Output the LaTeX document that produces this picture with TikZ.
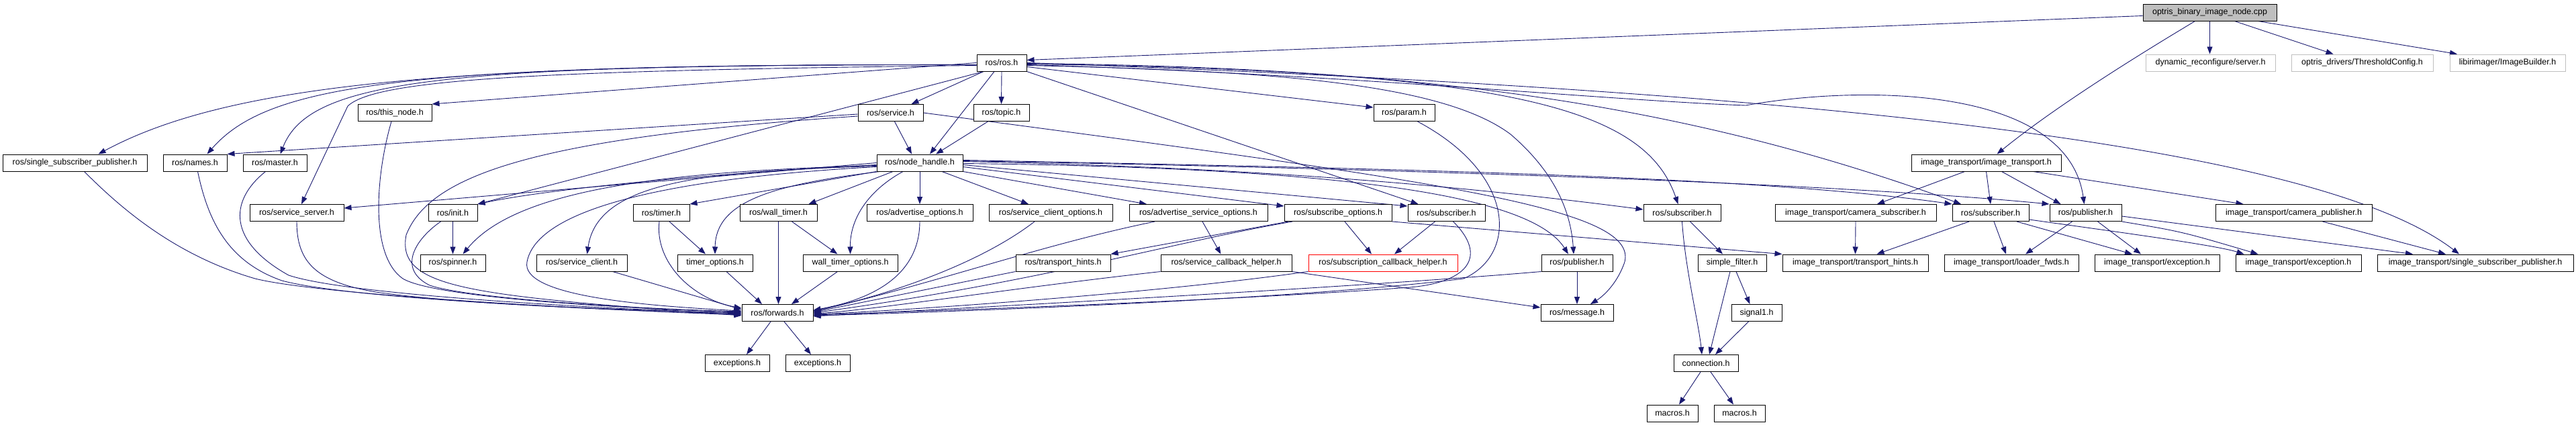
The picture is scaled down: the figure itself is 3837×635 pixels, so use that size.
\documentclass[tikz,border=0pt]{standalone}
\usepackage{fontspec}
\setmainfont{Liberation Sans}
\usetikzlibrary{arrows.meta}
\definecolor{edgecol}{HTML}{191970}
\definecolor{grayb}{HTML}{BFBFBF}
\pgfdeclarelayer{back}
\pgfdeclarelayer{edges}
\pgfsetlayers{back,edges,main}
\begin{document}
\begin{tikzpicture}[x=1pt,y=-1pt,
  box/.style={draw=black,line width=1pt,fill=white,inner sep=0pt,minimum height=25pt,font=\fontsize{12.5}{14}\selectfont},
  ubox/.style={box,draw=grayb},
  rbox/.style={box,draw=red},
  E/.style={draw=edgecol,line width=0.9pt,-{Triangle[length=11pt,width=8pt]}}]
\begin{pgfonlayer}{back}
\fill[white] (0,0) rectangle (3837,635);
\end{pgfonlayer}
\useasboundingbox (0,0) rectangle (3837,635);
% row 0
\node[box,fill=grayb,minimum width=199pt] (opt) at (3291.5,18.5) {optris\_binary\_image\_node.cpp};
% row 1
\node[box,minimum width=74pt] (ros) at (1492,93.5) {ros/ros.h};
\node[ubox,minimum width=193pt] (dyn) at (3292.5,93.5) {dynamic\_reconfigure/server.h};
\node[ubox,minimum width=211pt] (thr) at (3518.5,93.5) {optris\_drivers/ThresholdConfig.h};
\node[ubox,minimum width=172pt] (img) at (3735,93.5) {libirimager/ImageBuilder.h};
% row 2
\node[box,minimum width=110pt] (thisnode) at (588,168) {ros/this\_node.h};
\node[box,minimum width=97pt] (service) at (1326.5,168) {ros/service.h};
\node[box,minimum width=83pt] (topic) at (1491.5,168) {ros/topic.h};
\node[box,minimum width=91pt] (param) at (2091.5,168) {ros/param.h};
% row 3
\node[box,minimum width=215pt] (ssp) at (111.5,242.5) {ros/single\_subscriber\_publisher.h};
\node[box,minimum width=95pt] (names) at (290.5,242.5) {ros/names.h};
\node[box,minimum width=95pt] (master) at (409.5,242.5) {ros/master.h};
\node[box,minimum width=128pt] (nh) at (1370,242.5) {ros/node\_handle.h};
\node[box,minimum width=223pt] (it) at (2958.5,242.5) {image\_transport/image\_transport.h};
% row 4
\node[box,minimum width=140pt] (srvsrv) at (442,317) {ros/service\_server.h};
\node[box,minimum width=73pt] (init) at (674.5,317) {ros/init.h};
\node[box,minimum width=84pt] (timer) at (985,317) {ros/timer.h};
\node[box,minimum width=115pt] (wtimer) at (1159.5,317) {ros/wall\_timer.h};
\node[box,minimum width=158pt] (advopt) at (1370,317) {ros/advertise\_options.h};
\node[box,minimum width=184pt] (scopt) at (1565,317) {ros/service\_client\_options.h};
\node[box,minimum width=206pt] (asopt) at (1785,317) {ros/advertise\_service\_options.h};
\node[box,minimum width=160pt] (subopt) at (1993,317) {ros/subscribe\_options.h};
\node[box,minimum width=115pt] (sub1) at (2154.5,317) {ros/subscriber.h};
\node[box,minimum width=115pt] (sub2) at (2505.5,317) {ros/subscriber.h};
\node[box,minimum width=240pt] (camsub) at (2764,317) {image\_transport/camera\_subscriber.h};
\node[box,minimum width=114pt] (sub3) at (2965,317) {ros/subscriber.h};
\node[box,minimum width=107pt] (pub2) at (3106.5,317) {ros/publisher.h};
\node[box,minimum width=233pt] (campub) at (3416.5,317) {image\_transport/camera\_publisher.h};
% row 5
\node[box,minimum width=97pt] (spinner) at (674.5,391.5) {ros/spinner.h};
\node[box,minimum width=135pt] (srvcli) at (866.5,391.5) {ros/service\_client.h};
\node[box,minimum width=112pt] (topt) at (1065,391.5) {timer\_options.h};
\node[box,minimum width=141pt] (wtopt) at (1266.5,391.5) {wall\_timer\_options.h};
\node[box,minimum width=141pt] (th) at (1583.5,391.5) {ros/transport\_hints.h};
\node[box,minimum width=195pt] (sch) at (1826.5,391.5) {ros/service\_callback\_helper.h};
\node[rbox,minimum width=222pt] (subcb) at (2060,391.5) {ros/subscription\_callback\_helper.h};
\node[box,minimum width=106pt] (pub1) at (2349,391.5) {ros/publisher.h};
\node[box,minimum width=102pt] (sf) at (2580,391.5) {simple\_filter.h};
\node[box,minimum width=217pt] (itth) at (2763.5,391.5) {image\_transport/transport\_hints.h};
\node[box,minimum width=200pt] (lf) at (2996,391.5) {image\_transport/loader\_fwds.h};
\node[box,minimum width=186pt] (exc1) at (3213,391.5) {image\_transport/exception.h};
\node[box,minimum width=187pt] (exc2) at (3423.5,391.5) {image\_transport/exception.h};
\node[box,minimum width=292pt] (itssp) at (3687,391.5) {image\_transport/single\_subscriber\_publisher.h};
% row 6
\node[box,minimum width=106pt] (fwd) at (1158,466) {ros/forwards.h};
\node[box,minimum width=108pt] (msg) at (2349,466) {ros/message.h};
\node[box,minimum width=75pt] (sig) at (2616.5,466) {signal1.h};
% row 7
\node[box,minimum width=96pt] (ex1) at (1098,541) {exceptions.h};
\node[box,minimum width=96pt] (ex2) at (1218,541) {exceptions.h};
\node[box,minimum width=96pt] (conn) at (2541,541) {connection.h};
% row 8
\node[box,minimum width=76pt] (mac1) at (2491,615.5) {macros.h};
\node[box,minimum width=76pt] (mac2) at (2591,615.5) {macros.h};

\begin{pgfonlayer}{edges}
% ---- edges from opt
\draw[E] ([yshift=-5pt]opt.west) -- ([yshift=4pt]ros.east);
\draw[E] ([xshift=-22pt]opt.south) .. controls (3180,85) and (3060,160) .. ([xshift=16pt]it.north);
\draw[E] (opt.south) -- (opt.south |- dyn.north);
\draw[E] ([xshift=37pt]opt.south) -- ([xshift=-43pt]thr.north);
\draw[E] ([xshift=72pt]opt.south) -- ([xshift=-75pt]img.north);
% ---- edges from ros
\draw[E] ([yshift=-3pt]ros.west) .. controls (700,95) and (350,120) .. ([xshift=35pt]ssp.north);
\draw[E] ([yshift=-3pt]ros.west) .. controls (600,95) and (400,125) .. ([xshift=18pt]names.north);
\draw[E] ([yshift=-3pt]ros.west) .. controls (650,95) and (460,120) .. ([xshift=8pt]master.north);
\draw[E] (ros.west) -- (thisnode.north east);
\draw[E] ([yshift=-4pt]ros.west) .. controls (800,105) and (560,118) .. (518,158) -- ([xshift=7pt]srvsrv.north);
\draw[E] ([xshift=-27pt]ros.south) -- (init.north east);
\draw[E] ([xshift=-27pt]ros.south) -- ([xshift=31pt]service.north);
\draw[E] ([xshift=-11pt]ros.south) -- ([xshift=15pt]nh.north);
\draw[E] (ros.south) -- (topic.north);
\draw[E] ([yshift=-6pt]ros.east) -- ([yshift=8pt]param.west);
\draw[E] (ros.south east) -- ([xshift=-42pt]sub1.north);
\draw[E] ([yshift=-4pt]ros.east) .. controls (1900,105) and (2150,125) .. (2250,200) .. controls (2320,260) and (2340,320) .. ([xshift=-5pt]pub1.north);
\draw[E] ([yshift=-2pt]ros.east) .. controls (2250,105) and (2450,160) .. ([xshift=-6pt]sub2.north);
\draw[E] ([yshift=-1pt]ros.east) .. controls (2100,100) and (2500,150) .. ([xshift=-44pt]sub3.north);
\draw[E] ([yshift=-3pt]ros.east) .. controls (2000,110) and (2400,150) .. (2600,157) .. controls (2780,125) and (3080,130) .. ([xshift=-2pt]pub2.north);
\draw[E] (ros.east) .. controls (2700,135) and (3450,215) .. ([xshift=-24pt]itssp.north);
% ---- topic, service
\draw[E] ([xshift=-20pt]topic.south) -- ([xshift=24pt]nh.north);
\draw[E] ([xshift=6pt]service.south) -- ([xshift=-12pt]nh.north);
\draw[E] ([yshift=-2pt]service.west) -- (names.north east);
\draw[E] ([yshift=-5pt]service.west) .. controls (800,205) and (640,260) .. (605,350) .. controls (590,430) and (700,440) .. ([yshift=-4pt]fwd.west);
\draw[E] (service.east) .. controls (2150,270) and (2440,310) .. (2420,390) .. controls (2410,420) and (2390,440) .. ([xshift=20pt]msg.north);
% ---- node_handle
\draw[E] (nh.west) -- ([yshift=7pt]srvsrv.east);
\draw[E] ([yshift=-3pt]nh.west) .. controls (1000,262) and (800,285) .. (init.north east);
\draw[E] ([yshift=-4pt]nh.west) .. controls (1000,255) and (770,280) .. ([xshift=15pt]spinner.north);
\draw[E] ([yshift=-5pt]nh.west) .. controls (1050,255) and (890,270) .. ([xshift=8pt]srvcli.north);
\draw[E] (nh.south west) -- (timer.north east);
\draw[E] ([xshift=5pt]nh.south west) .. controls (1150,275) and (1066,300) .. (topt.north);
\draw[E] ([xshift=-40pt]nh.south) -- ([xshift=45pt]wtimer.north);
\draw[E] ([xshift=-25pt]nh.south) .. controls (1300,280) and (1266,320) .. (wtopt.north);
\draw[E] ([yshift=-6pt]nh.west) .. controls (1000,265) and (800,310) .. (785,390) .. controls (775,440) and (950,455) .. ([yshift=3pt]fwd.west);
\draw[E] (nh.south) -- (advopt.north);
\draw[E] ([xshift=33pt]nh.south) -- ([xshift=-33pt]scopt.north);
\draw[E] (nh.south east) -- ([xshift=-77pt]asopt.north);
\draw[E] ([yshift=-6pt]nh.east) -- ([yshift=10pt]subopt.west);
\draw[E] ([yshift=-3pt]nh.east) -- ([yshift=10pt]sub1.west);
\draw[E] ([yshift=-1pt]nh.east) .. controls (2000,250) and (2280,290) .. ([xshift=-13pt]pub1.north);
\draw[E] ([yshift=2pt]nh.east) .. controls (1900,250) and (2200,280) .. ([yshift=5pt]sub2.west);
\draw[E] ([yshift=4pt]nh.east) .. controls (2000,250) and (2600,260) .. (sub3.north west);
\draw[E] ([yshift=3pt]nh.east) .. controls (2000,250) and (2700,270) .. (pub2.north west);
% ---- row 4 left part
\draw[E] (init.south) -- (spinner.north);
\draw[E] ([xshift=12pt]timer.south) -- ([xshift=-14pt]topt.north);
\draw[E] ([xshift=20pt]wtimer.south) -- ([xshift=-19pt]wtopt.north);
% ---- into forwards from the left
\draw[E] ([xshift=14pt]ssp.south) .. controls (180,310) and (260,380) .. (380,415) .. controls (480,440) and (900,462) .. ([yshift=-3pt]fwd.west);
\draw[E] ([xshift=4pt]names.south) .. controls (310,330) and (340,390) .. (420,418) .. controls (520,445) and (900,462) .. ([yshift=-2pt]fwd.west);
\draw[E] ([xshift=-14pt]master.south) .. controls (340,300) and (340,360) .. (430,410) .. controls (520,440) and (900,460) .. ([yshift=-1pt]fwd.west);
\draw[E] (srvsrv.south) .. controls (442,390) and (470,420) .. (560,435) .. controls (700,455) and (950,462) .. (fwd.west);
\draw[E] ([xshift=-5pt]thisnode.south) .. controls (560,260) and (550,380) .. (600,415) .. controls (650,445) and (950,460) .. ([yshift=1pt]fwd.west);
\draw[E] ([xshift=-18pt]init.south) .. controls (620,355) and (590,400) .. (640,425) .. controls (700,445) and (950,460) .. ([yshift=2pt]fwd.west);
\draw[E] ([xshift=46pt]srvcli.south) -- ([yshift=5pt]fwd.west);
\draw[E] ([xshift=-3pt]timer.south) .. controls (975,390) and (1030,445) .. ([yshift=7pt]fwd.west);
\draw[E] ([xshift=17pt]topt.south) -- ([xshift=-23pt]fwd.north);
\draw[E] (wtimer.south) -- ([xshift=1.5pt]fwd.north);
\draw[E] ([xshift=-19pt]wtopt.south) -- ([xshift=21pt]fwd.north);
% ---- into forwards from the right
\draw[E] (advopt.south) .. controls (1370,390) and (1330,440) .. ([yshift=4pt]fwd.east);
\draw[E] ([xshift=-24pt]scopt.south) .. controls (1450,400) and (1300,445) .. ([yshift=3pt]fwd.east);
\draw[E] ([xshift=-65pt]asopt.south) .. controls (1550,365) and (1400,420) .. ([yshift=2pt]fwd.east);
\draw[E] ([xshift=-68pt]subopt.south) .. controls (1750,360) and (1550,420) .. (fwd.east);
\draw[E] (th.south west) -- ([yshift=1pt]fwd.east);
\draw[E] (sch.south west) .. controls (1500,430) and (1300,462) .. ([yshift=-1pt]fwd.east);
\draw[E] (subcb.south west) .. controls (1700,440) and (1300,465) .. ([yshift=-2pt]fwd.east);
\draw[E] ([xshift=10pt]sub1.south) .. controls (2215,380) and (2190,420) .. (2100,428) .. controls (1800,450) and (1300,466) .. ([yshift=-3pt]fwd.east);
\draw[E] ([xshift=20pt]param.south) .. controls (2260,260) and (2260,380) .. (2180,415) .. controls (1900,450) and (1300,468) .. ([yshift=-4pt]fwd.east);
\draw[E] (pub1.south west) .. controls (2000,430) and (1300,466) .. ([yshift=-5pt]fwd.east);
% ---- forwards children
\draw[E] ([xshift=-10pt]fwd.south) -- ([xshift=14pt]ex1.north);
\draw[E] ([xshift=10pt]fwd.south) -- ([xshift=-10pt]ex2.north);
% ---- options / helpers
\draw[E] ([xshift=6pt]asopt.south) -- ([xshift=-8pt]sch.north);
\draw[E] ([xshift=-74pt]subopt.south) -- (th.north east);
\draw[E] ([xshift=10pt]subopt.south) -- ([xshift=-17pt]subcb.north);
\draw[E] (subopt.south east) -- (itth.north west);
\draw[E] ([xshift=-17pt]sub1.south) -- ([xshift=17pt]subcb.north);
\draw[E] (pub1.south) -- (msg.north);
\draw[E] (sch.south east) -- ([yshift=8pt]msg.west);
% ---- message_filters part
\draw[E] (sub2.south) .. controls (2510,400) and (2530,480) .. ([xshift=-6pt]conn.north);
\draw[E] ([xshift=12pt]sub2.south) -- ([xshift=-14pt]sf.north);
\draw[E] ([xshift=-3pt]sf.south) -- ([xshift=5pt]conn.north);
\draw[E] ([xshift=6pt]sf.south) -- ([xshift=-10pt]sig.north);
\draw[E] ([xshift=-12pt]sig.south) -- ([xshift=14pt]conn.north);
\draw[E] ([xshift=-8pt]conn.south) -- ([xshift=10pt]mac1.north);
\draw[E] ([xshift=7pt]conn.south) -- ([xshift=-9pt]mac2.north);
% ---- image_transport part
\draw[E] ([xshift=-32pt]it.south) -- ([xshift=32pt]camsub.north);
\draw[E] (it.south) -- (sub3.north);
\draw[E] ([xshift=23pt]it.south) -- ([xshift=-37pt]pub2.north);
\draw[E] ([xshift=70pt]it.south) -- ([xshift=-75pt]campub.north);
\draw[E] (camsub.south) -- (itth.north);
\draw[E] ([xshift=-32pt]sub3.south) -- ([xshift=32pt]itth.north);
\draw[E] ([xshift=5pt]sub3.south) -- ([xshift=-8pt]lf.north);
\draw[E] ([xshift=39pt]sub3.south) -- ([xshift=-37pt]exc1.north);
\draw[E] ([yshift=-10pt]sub3.east) .. controls (3150,345) and (3300,365) .. ([xshift=-81pt]exc2.north);
\draw[E] ([xshift=-20pt]pub2.south) -- ([xshift=21pt]lf.north);
\draw[E] ([xshift=18pt]pub2.south) -- ([xshift=-24pt]exc1.north);
\draw[E] (pub2.south east) .. controls (3250,345) .. ([xshift=-60pt]exc2.north);
\draw[E] ([yshift=-5pt]pub2.east) -- ([xshift=-93pt]itssp.north);
\draw[E] ([xshift=43pt]campub.south) -- ([xshift=-44pt]itssp.north);
\end{pgfonlayer}
\end{tikzpicture}
\end{document}
